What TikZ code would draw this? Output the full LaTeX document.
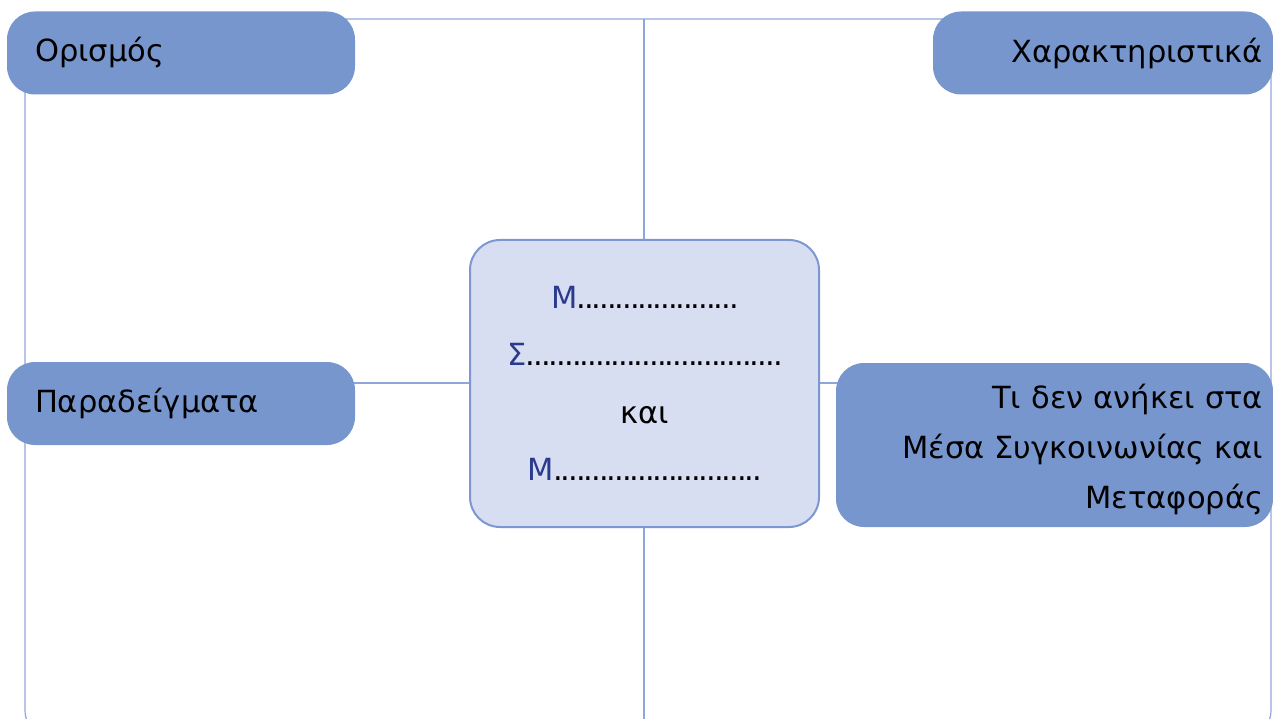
\documentclass[tikz,border=0pt]{standalone}
\usepackage{fontspec}
\setmainfont{DejaVu Sans}
\definecolor{tabblue}{HTML}{7896CE}
\definecolor{frameblue}{HTML}{8FA6DB}
\definecolor{boxfill}{HTML}{D8DEF1}
\definecolor{boxline}{HTML}{7D98D0}
\definecolor{letterblue}{HTML}{2B3A8C}
% a row of dots to write on, #1 is its length
\newcommand{\dotrun}[1]{\hbox to #1{\xleaders\hbox to 7.6pt{\hss.\hss}\hfill}}

\begin{document}
\begin{tikzpicture}[x=1pt,y=-1pt,
  tab/.style={rectangle,rounded corners=28pt,fill=tabblue,inner sep=0pt,
    font=\fontsize{30.5}{50}\selectfont},
  centrebox/.style={rectangle,rounded corners=30pt,fill=boxfill,draw=boxline,
    line width=2pt,inner sep=0pt,align=center,font=\fontsize{30.5}{57.5}\selectfont}]
% everything is in pixels of the page, y runs downwards
\useasboundingbox (0,0) rectangle (1273,719);
% The outer frame, its bottom runs off the page
\draw[frameblue,line width=1.2pt,rounded corners=30pt] (25,19) rectangle (1271,740);
% The cross through the middle
\coordinate (top) at (644,19);
\coordinate (bottom) at (644,719);
\coordinate (left) at (25,383);
\coordinate (right) at (1271,383);
\draw[frameblue,line width=1.2pt] (top) -- (bottom);
\draw[frameblue,line width=1.2pt] (left) -- (right);
% The four tabs
\node[tab,minimum width=348pt,minimum height=83pt,text width=292pt,align=left] (definition) at (181,53) {Ορισμός};
\node[tab,minimum width=340pt,minimum height=83pt,text width=320pt,align=right] (features) at (1103,53) {Χαρακτηριστικά};
\node[tab,minimum width=348pt,minimum height=83pt,text width=292pt,align=left] (examples) at (181,403.5) {Παραδείγματα};
\node[tab,minimum width=437pt,minimum height=164pt,text width=417pt,align=right] (notbelong) at (1054.5,445) {\rule{0pt}{33pt}Τι δεν ανήκει στα\\Μέσα Συγκοινωνίας και\\Μεταφοράς};
% The box in the middle
\node[centrebox,minimum width=349pt,minimum height=287pt] (middle) at (644.5,383.5)
  {{\color{letterblue}Μ}\dotrun{160pt}\\
   {\color{letterblue}Σ}\dotrun{255pt}\\
   και\\
   {\color{letterblue}Μ}\dotrun{207pt}};
\end{tikzpicture}
\end{document}
